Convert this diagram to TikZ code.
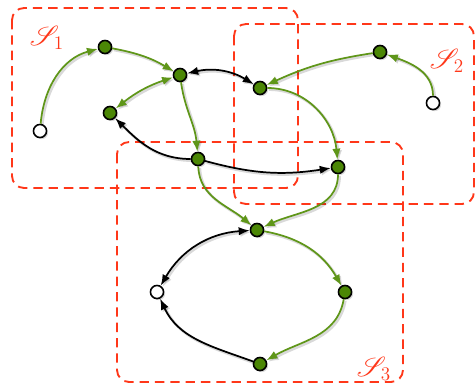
\documentclass[tikz,border=0pt]{standalone}
\usepackage{amsmath, amssymb, mathrsfs}
\usepackage{tikz}
\usetikzlibrary{arrows.meta, shadows}
\usepackage{xcolor}
\definecolor{setred}{RGB}{255,55,25}
\definecolor{leaf}{RGB}{75,135,5}
\definecolor{leafedge}{RGB}{95,150,25}

\begin{document}
\begin{tikzpicture}[
  x=0.75pt, y=0.75pt,
  vtx/.style={draw, circle, line width=1.2pt, minimum size=9.8pt, inner sep=0pt, fill=leaf,
    drop shadow={opacity=0.3, shadow xshift=1.2pt, shadow yshift=-1.2pt}},
  src/.style={vtx, fill=white},
  tip/.style={-{Latex[length=2.9mm, width=2.2mm]}},
  both/.style={{Latex[length=2.9mm, width=2.2mm]}-{Latex[length=2.9mm, width=2.2mm]}},
  garr/.style={tip, line width=1.3pt, leafedge,
    preaction={draw=black, opacity=0.15, line width=2pt, transform canvas={shift={(1.2pt,-1.2pt)}}}},
  barr/.style={garr, black},
  region/.style={draw=setred, line width=1.4pt, dash pattern=on 7pt off 4.5pt, rounded corners=9pt},
  lbl/.style={text=setred, font=\huge},
]
  \useasboundingbox (0,0) rectangle (476,387);
  % the three sets
  \draw[region] (12,379) rectangle (298,199);
  \draw[region] (234,363) rectangle (474,183);
  \draw[region] (117,245) rectangle (403,5);
  \node[lbl] (s1) at (47,349) {$\mathscr{S}_1$};
  \node[lbl] (s2) at (447,326) {$\mathscr{S}_2$};
  \node[lbl] (s3) at (374,18) {$\mathscr{S}_3$};

  % vertices
  \node[src] (a0) at (40,256) {};
  \node[vtx] (a1) at (105,340) {};
  \node[vtx] (a2) at (180,312) {};
  \node[vtx] (a3) at (110,274) {};
  \node[vtx] (a4) at (198,228) {};
  \node[vtx] (b1) at (260,299) {};
  \node[vtx] (b2) at (380,335) {};
  \node[src] (b0) at (433,284) {};
  \node[vtx] (b3) at (338,220) {};
  \node[vtx] (c1) at (257,157) {};
  \node[src] (c0) at (157,95) {};
  \node[vtx] (c2) at (345,95) {};
  \node[vtx] (c3) at (260,23) {};

  % edges
  \draw[garr] (a0) to[out=85, in=195] (a1);
  \draw[garr] (a1) to[bend left=10] (a2);
  \draw[garr, both] (a2) to[bend right=10] (a3);
  \draw[garr] (a2) to[out=-82, in=95] (a4);
  \draw[barr, both] (a2) to[bend left=22] (b1);
  \draw[garr] (b2) to[bend right=8] (b1);
  \draw[garr] (b0) to[out=90, in=-20] (b2);
  \draw[garr] (b1) to[out=0, in=95] (b3);
  \draw[barr] (a4) to[out=180, in=-45] (a3);
  \draw[barr] (a4) to[bend right=12] (b3);
  \draw[garr] (a4) to[out=-88, in=140] (c1);
  \draw[garr] (b3) to[out=-90, in=25] (c1);
  \draw[barr, both] (c1) to[bend right=28] (c0);
  \draw[garr] (c1) to[bend left=25] (c2);
  \draw[garr] (c2) to[out=-100, in=30] (c3);
  \draw[barr] (c3) to[out=160, in=-65] (c0);
\end{tikzpicture}
\end{document}
